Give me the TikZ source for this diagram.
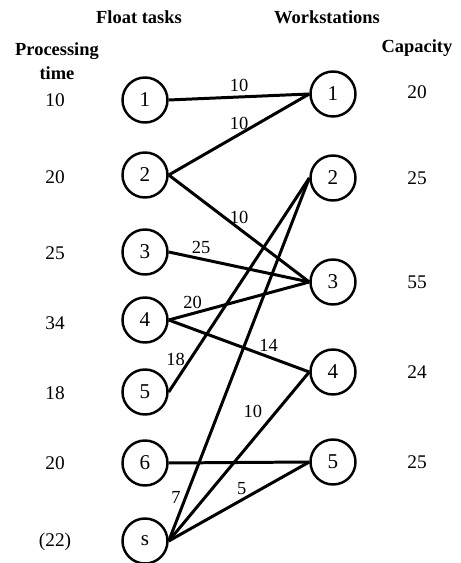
\documentclass[tikz,border=0pt]{standalone}
\usepackage{fontspec}
\setmainfont{Liberation Serif}
\usepackage{tikz}
\usetikzlibrary{positioning}
\tikzset{
  task/.style={circle,draw=black,line width=1.4pt,minimum size=9mm,
    inner sep=0pt,font=\fontsize{12}{14}\selectfont},
  wst/.style={task},
  bedge/.style={line width=1.7pt,black},
  wlbl/.style={font=\fontsize{10.5}{12}\selectfont,inner sep=2pt},
  colhead/.style={font=\bfseries\fontsize{10.5}{12}\selectfont,align=center},
  colval/.style={font=\fontsize{11}{13}\selectfont},
}

\begin{document}
\begin{tikzpicture}
  \useasboundingbox (0,0) rectangle (9.22,11.26);
  % headings
  \node[colhead] (hft) at (2.78,10.92) {Float tasks};
  \node[colhead] (hws) at (6.54,10.92) {Workstations};
  \node[colhead] (hpt) at (1.14,10.04) {Processing\\[2pt]time};
  \node[colhead] (hcap) at (8.34,10.30) {Capacity};
  % float tasks
  \node[task] (t1) at (2.9,9.26) {1};
  \node[task] (t2) at (2.9,7.76) {2};
  \node[task] (t3) at (2.9,6.22) {3};
  \node[task] (t4) at (2.9,4.86) {4};
  \node[task] (t5) at (2.9,3.42) {5};
  \node[task] (t6) at (2.9,2.00) {6};
  \node[task] (ts) at (2.9,0.44) {s};
  % workstations
  \node[wst] (w1) at (6.66,9.38) {1};
  \node[wst] (w2) at (6.66,7.70) {2};
  \node[wst] (w3) at (6.66,5.62) {3};
  \node[wst] (w4) at (6.66,3.82) {4};
  \node[wst] (w5) at (6.66,2.02) {5};
  % processing times
  \node[colval] (p1) at (1.1,9.26) {10};
  \node[colval] (p2) at (1.1,7.72) {20};
  \node[colval] (p3) at (1.1,6.20) {25};
  \node[colval] (p4) at (1.1,4.80) {34};
  \node[colval] (p5) at (1.1,3.40) {18};
  \node[colval] (p6) at (1.1,2.00) {20};
  \node[colval] (ps) at (1.1,0.42) {(22)};
  % capacities
  \node[colval] (c1) at (8.34,9.42) {20};
  \node[colval] (c2) at (8.34,7.70) {25};
  \node[colval] (c3) at (8.34,5.62) {55};
  \node[colval] (c4) at (8.34,3.82) {24};
  \node[colval] (c5) at (8.34,2.02) {25};
  % assignment edges
  \draw[bedge] (t1.east) -- node[wlbl,above,pos=0.5] {10} (w1.west);
  \draw[bedge] (t2.east) -- node[wlbl,above,pos=0.5] {10} (w1.west);
  \draw[bedge] (t2.east) -- node[wlbl,above,pos=0.5] {10} (w3.west);
  \draw[bedge] (t3.east) -- node[wlbl,above,pos=0.23] {25} (w3.west);
  \draw[bedge] (t4.east) -- node[wlbl,above,pos=0.17] {20} (w3.west);
  \draw[bedge] (t4.east) -- node[wlbl,above,pos=0.71] {14} (w4.west);
  \draw[bedge] (t5.east) -- node[wlbl,left,pos=0.15] {18} (w2.west);
  \draw[bedge] (t6.east) -- (w5.west);
  \draw[bedge] (ts.east) -- node[wlbl,left,pos=0.12] {7} (w2.west);
  \draw[bedge] (ts.east) -- node[wlbl,above left,pos=0.7] {10} (w4.west);
  \draw[bedge] (ts.east) -- node[wlbl,above,pos=0.52] {5} (w5.west);
\end{tikzpicture}
\end{document}
